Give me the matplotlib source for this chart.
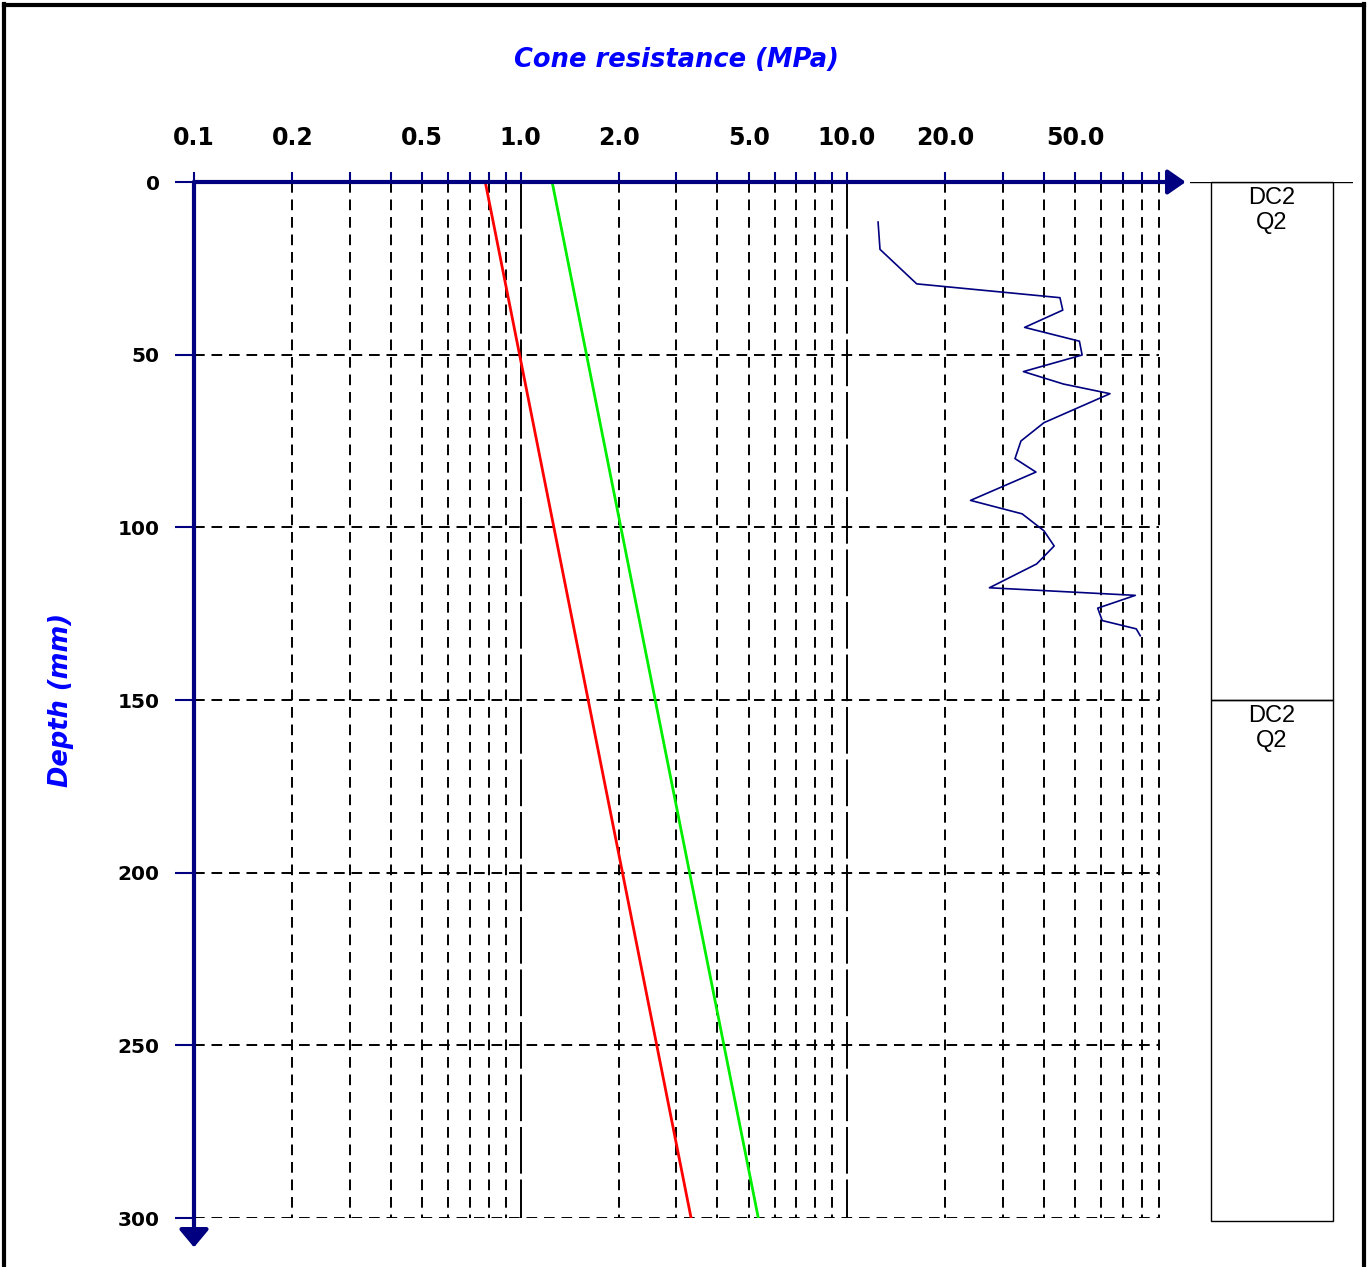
import numpy as np
import matplotlib
matplotlib.use("Agg")
import matplotlib.pyplot as plt
from matplotlib.patches import Rectangle

# measured cone resistance trace (MPa) against depth (mm)
depth_meas = [11.6, 19.5, 29.5, 33.5, 37.1, 42.1, 46.1, 50.1, 54.9, 58.5, 61.3,
              69.7, 75.0, 80.1, 84.0, 92.2, 96.1, 101.0, 105.4, 110.6, 117.5,
              119.7, 123.4, 127.0, 129.4, 131.4]
qc_meas = [12.45, 12.62, 16.35, 44.9, 45.8, 35.0, 51.5, 52.5, 34.7, 46.0, 63.9,
           40.1, 34.1, 32.7, 37.9, 23.9, 34.4, 40.1, 43.1, 38.1, 27.3,
           76.4, 58.6, 60.5, 76.9, 79.1]

# reference lines (end points)
depth_ref = [0, 300]
qc_red = [0.78, 3.33]
qc_green = [1.25, 5.35]

# grid / ticks
x_grid = [0.1, 0.2, 0.3, 0.4, 0.5, 0.6, 0.7, 0.8, 0.9,
          1, 2, 3, 4, 5, 6, 7, 8, 9,
          10, 20, 30, 40, 50, 60, 70, 80, 90]
x_labelled = {0.1: "0.1", 0.2: "0.2", 0.5: "0.5", 1: "1.0", 2: "2.0",
              5: "5.0", 10: "10.0", 20: "20.0", 50: "50.0"}
y_ticks = [0, 50, 100, 150, 200, 250, 300]

# soil layers
layer_top = [0, 150]
layer_bot = [150, 301]
layer_text = ["DC2\nQ2", "DC2\nQ2"]

W, H = 1372, 1267
navy = "#000080"
fig = plt.figure(figsize=(W / 100, H / 100), dpi=100)

ax = fig.add_axes([194 / W, 49 / H, 979.5 / W, 1036 / H])
ax.set_xscale("log")
ax.set_xlim(0.1, 100)
ax.set_ylim(300, 0)
for s in ax.spines.values():
    s.set_visible(False)
ax.minorticks_off()

# grid lines
for xv in x_grid[1:]:
    if xv in (1, 10):
        ax.plot([xv, xv], [0, 300], color="k", lw=1.4, dashes=(24, 3))
    else:
        ax.plot([xv, xv], [0, 300], color="k", lw=1.4, dashes=(5.5, 3.5))
for yv in y_ticks[1:]:
    ax.plot([0.1, 90], [yv, yv], color="k", lw=1.4, dashes=(5.5, 3.5))

ax.plot(qc_red, depth_ref, color="#ff0000", lw=2)
ax.plot(qc_green, depth_ref, color="#00ee00", lw=2)
ax.plot(qc_meas, depth_meas, color=navy, lw=1.2)

# axes with arrows
ax.annotate("", xy=(109, 0), xytext=(0.1, 0), annotation_clip=False,
            arrowprops=dict(arrowstyle="-|>,head_length=0.36,head_width=0.25", color=navy,
                            lw=3, shrinkA=0, shrinkB=0, mutation_scale=30))
ax.annotate("", xy=(0.1, 308.5), xytext=(0.1, 0), annotation_clip=False,
            arrowprops=dict(arrowstyle="-|>,head_length=0.36,head_width=0.3", color=navy,
                            lw=3, shrinkA=0, shrinkB=0, mutation_scale=30))

ax.xaxis.tick_top()
ax.set_xticks(x_grid)
ax.set_xticklabels([x_labelled.get(v, "") for v in x_grid])
ax.set_yticks(y_ticks)
ax.set_yticklabels([str(v) for v in y_ticks])
ax.tick_params(axis="x", direction="out", length=7.2, width=1.5, color=navy, pad=15.5,
               labelsize=17)
ax.tick_params(axis="y", direction="out", length=13.7, width=1.5, color=navy, pad=11,
               labelsize=14.5)
for lab in ax.get_xticklabels() + ax.get_yticklabels():
    lab.set_fontweight("bold")

fig.text(676 / W, 1 - 60 / H, "Cone resistance (MPa)", color="#0000ff", fontsize=18.5,
         fontweight="bold", fontstyle="italic", ha="center", va="center")
fig.text(61 / W, 1 - 700 / H, "Depth (mm)", color="#0000ff", fontsize=18.5,
         fontweight="bold", fontstyle="italic", ha="center", va="center", rotation=90)

# layer column
lx = fig.add_axes([1190 / W, 49 / H, 163 / W, 1036 / H])
lx.set_xlim(0, 1)
lx.set_ylim(300, 0)
lx.axis("off")
lx.plot([0, 1], [0, 0], color="k", lw=1)
for t, b, txt in zip(layer_top, layer_bot, layer_text):
    lx.add_patch(Rectangle((0.129, t), 0.748, b - t, fill=False, ec="k", lw=1,
                           clip_on=False))
    lx.text(0.5, t + 1.5, txt, ha="center", va="top", fontsize=17,
            family="Liberation Sans", linespacing=1.15)

# outer frame (left, top, right)
fig.add_artist(plt.Line2D([4 / W, 4 / W], [0, 1 - 4 / H], color="k", lw=3))
fig.add_artist(plt.Line2D([4 / W, 1364 / W], [1 - 5 / H, 1 - 5 / H], color="k", lw=3))
fig.add_artist(plt.Line2D([1364 / W, 1364 / W], [0, 1 - 4 / H], color="k", lw=3))

fig.savefig("out.png", dpi=100)
